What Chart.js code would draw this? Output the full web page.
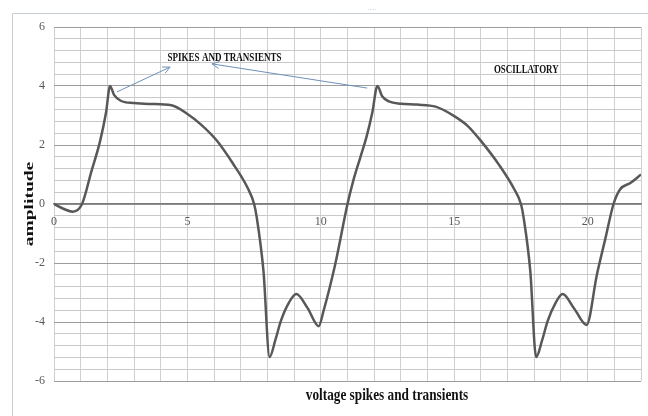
<!DOCTYPE html>
<html>
<head>
<meta charset="utf-8">
<style>
  html, body { margin: 0; padding: 0; background: #ffffff; }
  #wrap { width: 648px; height: 416px; }
</style>
<script src="https://cdn.jsdelivr.net/npm/chart.js@4.4.1/dist/chart.umd.min.js"></script>
</head>
<body>
<div id="wrap"><canvas id="c" width="648" height="416"></canvas></div>
<script>
// ---- data ----
const xValues = [0, 0.35, 0.7, 1.05, 1.4, 1.73, 1.95, 2.1, 2.25, 2.5, 3.0, 3.6, 4.4, 5.0, 5.5, 6.1, 6.7, 7.25, 7.5, 7.6, 7.85, 8.08, 8.3, 8.5, 8.8, 9.08, 9.5, 9.92, 10.1, 10.54, 11.0, 11.22, 11.47, 11.72, 11.93, 12.12, 12.3, 12.55, 13.0, 13.6, 14.3, 15.0, 15.5, 16.0, 16.7, 17.25, 17.5, 17.6, 17.85, 18.07, 18.3, 18.5, 18.8, 19.06, 19.5, 19.96, 20.35, 20.66, 20.97, 21.22, 21.6, 22.0];
const yValues = [0, -0.16, -0.26, 0, 1.1, 2.14, 3.1, 4.0, 3.7, 3.5, 3.42, 3.39, 3.35, 3.05, 2.7, 2.15, 1.38, 0.56, 0, -0.46, -2.27, -5.19, -4.6, -3.97, -3.35, -3.05, -3.52, -4.14, -3.63, -2.04, 0, 0.8, 1.55, 2.3, 3.1, 4.0, 3.65, 3.48, 3.4, 3.37, 3.3, 2.98, 2.65, 2.14, 1.3, 0.5, 0, -0.46, -2.27, -5.19, -4.6, -3.97, -3.35, -3.05, -3.55, -4.1, -2.38, -1.19, 0, 0.5, 0.71, 1.0];
const xTickLabels = [0, 5, 10, 15, 20];
const yTickLabels = [-6, -4, -2, 0, 2, 4, 6];
const xTitle = 'voltage spikes and transients';
const yTitle = 'amplitude';
const noteSpikes = 'SPIKES AND TRANSIENTS';
const noteOsc = 'OSCILLATORY';

// annotation placement (data coordinates)
const annotations = {
  spikesText: { x: 6.39, y: 4.97 },
  oscText: { x: 17.7, y: 4.56 },
  arrows: [
    { from: { x: 2.36, y: 3.80 }, to: { x: 4.35, y: 4.64 } },
    { from: { x: 11.74, y: 3.93 }, to: { x: 5.92, y: 4.75 } }
  ]
};

const isOnList = (v, list) => list.some(t => Math.abs(t - v) < 1e-6);

const overlay = {
  id: 'overlay',
  beforeDraw(chart) {
    const ctx = chart.ctx;
    ctx.save();
    ctx.strokeStyle = '#c6ccd3';
    ctx.lineWidth = 1;
    ctx.beginPath();
    ctx.moveTo(12.5, 416);
    ctx.lineTo(12.5, 13.5);
    ctx.lineTo(648, 13.5);
    ctx.stroke();
    ctx.fillStyle = '#9a9a9a';
    ctx.font = '6px "Liberation Sans"';
    ctx.textAlign = 'center';
    ctx.fillText('.....', 372, 10);
    ctx.restore();
  },
  afterDraw(chart) {
    const ctx = chart.ctx;
    const xs = chart.scales.x, ys = chart.scales.y;
    ctx.save();
    // arrows
    ctx.strokeStyle = '#6e8fb7';
    ctx.lineWidth = 1;
    annotations.arrows.forEach(a => {
      const x1 = xs.getPixelForValue(a.from.x), y1 = ys.getPixelForValue(a.from.y);
      const x2 = xs.getPixelForValue(a.to.x), y2 = ys.getPixelForValue(a.to.y);
      ctx.beginPath();
      ctx.moveTo(x1, y1);
      ctx.lineTo(x2, y2);
      const ang = Math.atan2(y2 - y1, x2 - x1);
      const L = 8, spread = 0.45;
      ctx.moveTo(x2 - L * Math.cos(ang - spread), y2 - L * Math.sin(ang - spread));
      ctx.lineTo(x2, y2);
      ctx.lineTo(x2 - L * Math.cos(ang + spread), y2 - L * Math.sin(ang + spread));
      ctx.stroke();
    });
    // annotation texts
    ctx.fillStyle = '#111111';
    ctx.textAlign = 'center';
    ctx.textBaseline = 'middle';
    const condensed = (txt, cx, cy, font, sx, sy) => {
      ctx.save();
      ctx.translate(cx, cy);
      ctx.scale(sx, sy);
      ctx.font = font;
      ctx.fillText(txt, 0, 0);
      ctx.restore();
    };
    condensed(noteSpikes, xs.getPixelForValue(annotations.spikesText.x), ys.getPixelForValue(annotations.spikesText.y), 'bold 13.5px "Liberation Serif"', 0.67, 1);
    condensed(noteOsc, xs.getPixelForValue(annotations.oscText.x), ys.getPixelForValue(annotations.oscText.y), 'bold 13.5px "Liberation Serif"', 0.66, 1);
    // axis titles
    condensed(xTitle, 387, 396, 'bold 17px "Liberation Serif"', 0.78, 1);
    ctx.save();
    ctx.translate(30, 204);
    ctx.rotate(-Math.PI / 2);
    ctx.scale(1.3, 0.85);
    ctx.font = 'bold 15px "Liberation Serif"';
    ctx.fillText(yTitle, 0, 0);
    ctx.restore();
    ctx.restore();
  }
};

new Chart(document.getElementById('c'), {
  type: 'scatter',
  data: {
    datasets: [{
      data: xValues.map((x, i) => ({ x: x, y: yValues[i] })),
      showLine: true,
      borderColor: '#585858',
      borderWidth: 2.5,
      pointRadius: 0,
      cubicInterpolationMode: 'monotone',
      fill: false
    }]
  },
  options: {
    responsive: false,
    animation: false,
    devicePixelRatio: 1,
    layout: { padding: { left: 0, top: 27, right: 7, bottom: 35 } },
    plugins: { legend: { display: false }, tooltip: { enabled: false } },
    scales: {
      x: {
        type: 'linear',
        position: { y: 0 },
        min: 0,
        max: 22,
        afterFit: s => { s.paddingLeft = 0; s.paddingRight = 0; },
        grid: { color: '#d0d0d0', lineWidth: 1, drawTicks: false },
        border: { display: true, color: '#7d7d7d', width: 1.5 },
        ticks: {
          stepSize: 1,
          autoSkip: false,
          maxRotation: 0,
          maxTicksLimit: 100,
          padding: 11,
          color: '#595959',
          font: { family: '"Liberation Serif"', size: 12 },
          callback: v => isOnList(v, xTickLabels) ? String(Math.round(v)) : ''
        }
      },
      y: {
        type: 'linear',
        position: 'left',
        min: -6,
        max: 6,
        afterFit: s => { s.width = 54; },
        grid: {
          drawTicks: false,
          lineWidth: 1,
          color: c => isOnList(c.tick.value, yTickLabels) ? '#9c9c9c' : '#c9c9c9'
        },
        border: { display: false },
        ticks: {
          stepSize: 0.4,
          autoSkip: false,
          maxTicksLimit: 100,
          padding: 9,
          color: '#595959',
          font: { family: '"Liberation Serif"', size: 12 },
          callback: v => isOnList(v, yTickLabels) ? String(Math.round(v)) : ''
        }
      }
    }
  },
  plugins: [overlay]
});
</script>
</body>
</html>
